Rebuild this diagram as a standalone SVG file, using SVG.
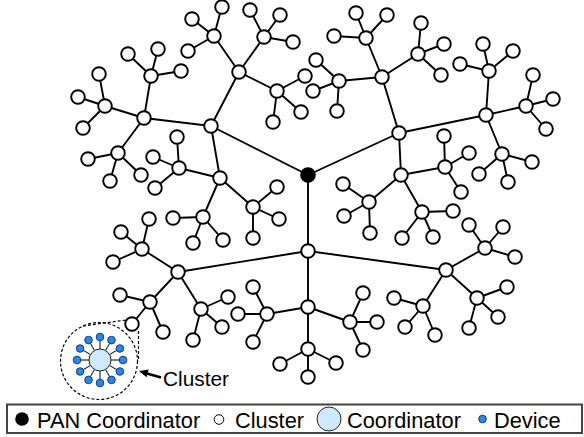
<svg xmlns="http://www.w3.org/2000/svg" width="584" height="437" viewBox="0 0 584 437">
<style>
.e{stroke:#000;stroke-width:1.9;fill:none}
.n{fill:#fff;stroke:#000;stroke-width:1.9}
.t{font-family:"Liberation Sans",Arial,sans-serif;fill:#000}
.dv{fill:#2a88e4;stroke:#0c3c8c;stroke-width:1}
.co{fill:#cfeafc;stroke:#222;stroke-width:1}
</style>
<defs>
<circle id="nd" r="6.8" class="n"/>
</defs>
<rect width="584" height="437" fill="#fff"/>
<g id="connectors">
<path class="e" d="M308 175L211 126M308 175L399 133M308 175L308 251
M211 126L144 118M211 126L239 72M211 126L220 178
M144 118L105 106M144 118L151 76M144 118L118 153
M105 106L99 74M105 106L78 97M105 106L83 128
M151 76L128 54M151 76L158 49M151 76L181 71
M118 153L88 159M118 153L110 181M118 153L141 175
M239 72L214 36M239 72L264 37M239 72L277 91
M214 36L222 6M214 36L192 19M214 36L188 51
M264 37L250 10M264 37L280 15M264 37L293 42
M277 91L305 76M277 91L301 112M277 91L273 122
M220 178L179 168M220 178L253 207M220 178L203 217
M179 168L177 137M179 168L153 157M179 168L155 188
M253 207L277 187M253 207L279 219M253 207L253 238
M203 217L173 218M203 217L193 243M203 217L223 240
M399 133L382 77M399 133L486 115M399 133L401 175
M382 77L366 38M382 77L339 81M382 77L418 54
M366 38L334 36M366 38L356 13M366 38L387 15
M339 81L316 60M339 81L313 91M339 81L337 111
M418 54L421 23M418 54L444 44M418 54L441 75
M486 115L489 71M486 115L526 106M486 115L502 154
M489 71L483 44M489 71L513 51M489 71L460 64
M526 106L533 75M526 106L553 99M526 106L546 129
M502 154L532 162M502 154L479 174M502 154L508 182
M401 175L445 167M401 175L422 212M401 175L369 202
M445 167L444 136M445 167L469 153M445 167L461 192
M422 212L453 211M422 212L402 238M422 212L433 237
M369 202L343 184M369 202L344 216M369 202L370 233
M308 251L178 272M308 251L446 270M308 251L308 307
M178 272L142 249M178 272L150 302M178 272L201 309
M142 249L149 219M142 249L121 232M142 249L113 262
M150 302L120 295M150 302L132 324M150 302L163 332
M201 309L228 297M201 309L222 327M201 309L193 340
M446 270L485 248M446 270L423 306M446 270L477 298
M485 248L469 225M485 248L503 227M485 248L515 257
M423 306L394 298M423 306L405 327M423 306L435 335
M477 298L507 287M477 298L498 317M477 298L469 328
M308 307L267 314M308 307L350 322M308 307L308 349
M267 314L253 287M267 314L238 314M267 314L253 342
M350 322L363 293M350 322L377 322M350 322L363 350
M308 349L280 364M308 349L336 363M308 349L308 377"/>
</g>
<g id="pan"><circle cx="308" cy="175" r="7.8" fill="#000"/></g>
<g id="A"><use href="#nd" x="211" y="126"/></g>
<g id="B"><use href="#nd" x="399" y="133"/></g>
<g id="C"><use href="#nd" x="308" y="251"/></g>
<g id="a1"><use href="#nd" x="144" y="118"/></g>
<g id="a1a"><use href="#nd" x="105" y="106"/><use href="#nd" x="99" y="74"/><use href="#nd" x="78" y="97"/><use href="#nd" x="83" y="128"/></g>
<g id="a1b"><use href="#nd" x="151" y="76"/><use href="#nd" x="128" y="54"/><use href="#nd" x="158" y="49"/><use href="#nd" x="181" y="71"/></g>
<g id="a1c"><use href="#nd" x="118" y="153"/><use href="#nd" x="88" y="159"/><use href="#nd" x="110" y="181"/><use href="#nd" x="141" y="175"/></g>
<g id="a2"><use href="#nd" x="239" y="72"/></g>
<g id="a2a"><use href="#nd" x="214" y="36"/><use href="#nd" x="222" y="7"/><use href="#nd" x="192" y="19"/><use href="#nd" x="188" y="51"/></g>
<g id="a2b"><use href="#nd" x="264" y="37"/><use href="#nd" x="250" y="10"/><use href="#nd" x="280" y="15"/><use href="#nd" x="293" y="42"/></g>
<g id="a2c"><use href="#nd" x="277" y="91"/><use href="#nd" x="305" y="76"/><use href="#nd" x="301" y="112"/><use href="#nd" x="273" y="122"/></g>
<g id="a3"><use href="#nd" x="220" y="178"/></g>
<g id="a3a"><use href="#nd" x="179" y="168"/><use href="#nd" x="177" y="137"/><use href="#nd" x="153" y="157"/><use href="#nd" x="155" y="188"/></g>
<g id="a3b"><use href="#nd" x="253" y="207"/><use href="#nd" x="277" y="187"/><use href="#nd" x="279" y="219"/><use href="#nd" x="253" y="238"/></g>
<g id="a3c"><use href="#nd" x="203" y="217"/><use href="#nd" x="173" y="218"/><use href="#nd" x="193" y="243"/><use href="#nd" x="223" y="240"/></g>
<g id="b1"><use href="#nd" x="382" y="77"/></g>
<g id="b1a"><use href="#nd" x="366" y="38"/><use href="#nd" x="334" y="36"/><use href="#nd" x="356" y="13"/><use href="#nd" x="387" y="15"/></g>
<g id="b1b"><use href="#nd" x="339" y="81"/><use href="#nd" x="316" y="60"/><use href="#nd" x="313" y="91"/><use href="#nd" x="337" y="111"/></g>
<g id="b1c"><use href="#nd" x="418" y="54"/><use href="#nd" x="421" y="23"/><use href="#nd" x="444" y="44"/><use href="#nd" x="441" y="75"/></g>
<g id="b2"><use href="#nd" x="486" y="115"/></g>
<g id="b2a"><use href="#nd" x="489" y="71"/><use href="#nd" x="483" y="44"/><use href="#nd" x="513" y="51"/><use href="#nd" x="460" y="64"/></g>
<g id="b2b"><use href="#nd" x="526" y="106"/><use href="#nd" x="533" y="75"/><use href="#nd" x="553" y="99"/><use href="#nd" x="546" y="129"/></g>
<g id="b2c"><use href="#nd" x="502" y="154"/><use href="#nd" x="532" y="162"/><use href="#nd" x="479" y="174"/><use href="#nd" x="508" y="182"/></g>
<g id="b3"><use href="#nd" x="401" y="175"/></g>
<g id="b3a"><use href="#nd" x="445" y="167"/><use href="#nd" x="444" y="136"/><use href="#nd" x="469" y="153"/><use href="#nd" x="461" y="192"/></g>
<g id="b3b"><use href="#nd" x="422" y="212"/><use href="#nd" x="453" y="211"/><use href="#nd" x="402" y="238"/><use href="#nd" x="433" y="237"/></g>
<g id="b3c"><use href="#nd" x="369" y="202"/><use href="#nd" x="343" y="184"/><use href="#nd" x="344" y="216"/><use href="#nd" x="370" y="233"/></g>
<g id="c1"><use href="#nd" x="178" y="272"/></g>
<g id="c1a"><use href="#nd" x="142" y="249"/><use href="#nd" x="149" y="219"/><use href="#nd" x="121" y="232"/><use href="#nd" x="113" y="262"/></g>
<g id="c1b"><use href="#nd" x="150" y="302"/><use href="#nd" x="120" y="295"/><use href="#nd" x="132" y="324"/><use href="#nd" x="163" y="332"/></g>
<g id="c1c"><use href="#nd" x="201" y="309"/><use href="#nd" x="228" y="297"/><use href="#nd" x="222" y="327"/><use href="#nd" x="193" y="340"/></g>
<g id="c2"><use href="#nd" x="446" y="270"/></g>
<g id="c2a"><use href="#nd" x="485" y="248"/><use href="#nd" x="469" y="225"/><use href="#nd" x="503" y="227"/><use href="#nd" x="515" y="257"/></g>
<g id="c2b"><use href="#nd" x="423" y="306"/><use href="#nd" x="394" y="298"/><use href="#nd" x="405" y="327"/><use href="#nd" x="435" y="335"/></g>
<g id="c2c"><use href="#nd" x="477" y="298"/><use href="#nd" x="507" y="287"/><use href="#nd" x="498" y="317"/><use href="#nd" x="469" y="328"/></g>
<g id="c3"><use href="#nd" x="308" y="307"/></g>
<g id="c3a"><use href="#nd" x="267" y="314"/><use href="#nd" x="253" y="287"/><use href="#nd" x="238" y="314"/><use href="#nd" x="253" y="342"/></g>
<g id="c3b"><use href="#nd" x="350" y="322"/><use href="#nd" x="363" y="293"/><use href="#nd" x="377" y="322"/><use href="#nd" x="363" y="350"/></g>
<g id="c3c"><use href="#nd" x="308" y="349"/><use href="#nd" x="280" y="364"/><use href="#nd" x="336" y="363"/><use href="#nd" x="308" y="377"/></g>
<g id="cluster-detail">
<circle cx="99" cy="361" r="38.5" fill="none" stroke="#000" stroke-width="1.2" stroke-dasharray="3 2"/>
<path d="M83 326L126 320M138.5 331L138.5 361" stroke="#000" stroke-width="1.2" stroke-dasharray="3 2" fill="none"/>
<path d="M100 360L123 360M100 360L119.9 371.5M100 360L111.5 379.9M100 360L100 383M100 360L88.5 379.9M100 360L80.1 371.5M100 360L77 360M100 360L80.1 348.5M100 360L88.5 340.1M100 360L100 337M100 360L111.5 340.1M100 360L119.9 348.5" stroke="#000" stroke-width="1"/>
<circle cx="100" cy="360" r="11" class="co"/>
<circle cx="123" cy="360" r="3.8" class="dv"/>
<circle cx="119.9" cy="371.5" r="3.8" class="dv"/>
<circle cx="111.5" cy="379.9" r="3.8" class="dv"/>
<circle cx="100" cy="383" r="3.8" class="dv"/>
<circle cx="88.5" cy="379.9" r="3.8" class="dv"/>
<circle cx="80.1" cy="371.5" r="3.8" class="dv"/>
<circle cx="77" cy="360" r="3.8" class="dv"/>
<circle cx="80.1" cy="348.5" r="3.8" class="dv"/>
<circle cx="88.5" cy="340.1" r="3.8" class="dv"/>
<circle cx="100" cy="337" r="3.8" class="dv"/>
<circle cx="111.5" cy="340.1" r="3.8" class="dv"/>
<circle cx="119.9" cy="348.5" r="3.8" class="dv"/>
</g>
<g id="cluster-label">
<line x1="161" y1="377.5" x2="147" y2="373.5" stroke="#000" stroke-width="2.6"/>
<polygon points="139,371 148.7,369.6 146.5,377.3" fill="#000"/>
<text class="t" x="163" y="386" font-size="19.5" textLength="66" lengthAdjust="spacingAndGlyphs">Cluster</text>
</g>
<g id="legend">
<rect x="7" y="404.5" width="575" height="28.5" fill="#fff" stroke="#444" stroke-width="2"/>
<circle cx="22" cy="419" r="6.8" fill="#000"/>
<text class="t" x="37" y="427.5" font-size="21.8">PAN Coordinator</text>
<circle cx="219" cy="419.5" r="4.8" fill="#fff" stroke="#000" stroke-width="1"/>
<text class="t" x="235" y="427.5" font-size="21.8">Cluster</text>
<circle cx="329" cy="419" r="12" class="co"/>
<text class="t" x="347" y="427.5" font-size="21.8">Coordinator</text>
<circle cx="482.5" cy="419" r="3.8" class="dv"/>
<text class="t" x="494" y="427.5" font-size="21.8">Device</text>
</g>
</svg>
